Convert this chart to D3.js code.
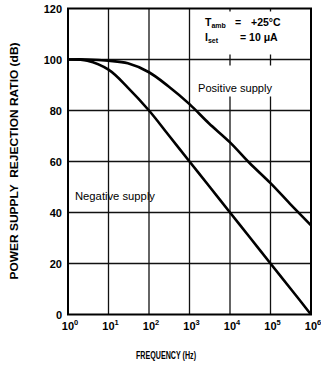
<!DOCTYPE html>
<html>
<head>
<meta charset="utf-8">
<script src="https://cdn.jsdelivr.net/npm/d3@7"></script>
<style>
  body { margin: 0; background: #fff; }
  text { font-family: "Liberation Sans", Arial, sans-serif; fill: #000; }
</style>
</head>
<body>
<div id="container"></div>
<script>
// Constants and globals
const width = 321,
  height = 365,
  margin = { top: 8.5, bottom: 50.5, left: 68, right: 10 }

// data
const freq = [1, 3, 10, 30, 100, 300, 1000, 3000, 1e4, 3e4, 1e5, 3e5, 1e6]
const positive = [100, 100, 99.5, 98.5, 95, 89.5, 82.5, 75, 67.5, 59.5, 51.5, 43.5, 35]
const negative = [100, 99.5, 96, 89, 80, 70.5, 60, 50.5, 40, 30.5, 20, 10.5, 0]
const xTicks = [0, 1, 2, 3, 4, 5, 6] // exponents of 10
const yTicks = [0, 20, 40, 60, 80, 100, 120]

// scales
const xScale = d3.scaleLog()
  .domain([1, 1e6])
  .range([margin.left, width - margin.right])

const yScale = d3.scaleLinear()
  .domain([0, 120])
  .range([height - margin.bottom, margin.top])

const svg = d3.select("#container")
  .append("svg")
  .attr("width", width)
  .attr("height", height)

const x0 = xScale(1), x1 = xScale(1e6), yTop = yScale(120), yBot = yScale(0)

// horizontal grid
svg.append("g")
  .selectAll("line")
  .data(yTicks.filter(d => d > 0 && d < 120))
  .join("line")
  .attr("x1", x0).attr("x2", x1)
  .attr("y1", d => yScale(d)).attr("y2", d => yScale(d))
  .attr("stroke", "#111").attr("stroke-width", 1.3)

// vertical grid (10^4 and 10^5 are interrupted by the notes box)
const vg = svg.append("g").attr("stroke", "#111").attr("stroke-width", 1.3)
xTicks.filter(e => e > 0 && e < 6).forEach(e => {
  const x = xScale(Math.pow(10, e))
  if (e < 4) {
    vg.append("line").attr("x1", x).attr("x2", x).attr("y1", yTop).attr("y2", yBot)
  } else {
    vg.append("line").attr("x1", x).attr("x2", x).attr("y1", yTop).attr("y2", yTop + 3)
    vg.append("line").attr("x1", x).attr("x2", x).attr("y1", yScale(100) - 5).attr("y2", yScale(100) + 6)
    vg.append("line").attr("x1", x).attr("x2", x).attr("y1", yScale(85.5)).attr("y2", yBot)
  }
})

// frame
svg.append("rect")
  .attr("x", x0).attr("y", yTop)
  .attr("width", x1 - x0).attr("height", yBot - yTop)
  .attr("fill", "none").attr("stroke", "#000").attr("stroke-width", 2)

// curves
const line = d3.line()
  .x((d, i) => xScale(freq[i]))
  .y(d => yScale(d))
  .curve(d3.curveCatmullRom.alpha(0.5))

svg.append("clipPath").attr("id", "clip")
  .append("rect").attr("x", x0).attr("y", yTop).attr("width", x1 - x0).attr("height", yBot - yTop)

const curves = svg.append("g").attr("clip-path", "url(#clip)")
;[positive, negative].forEach(s => {
  curves.append("path")
    .attr("d", line(s))
    .attr("fill", "none")
    .attr("stroke", "#000")
    .attr("stroke-width", 2.6)
})

// y tick labels
svg.append("g")
  .selectAll("text")
  .data(yTicks)
  .join("text")
  .attr("x", x0 - 6)
  .attr("y", d => yScale(d) + 4)
  .attr("text-anchor", "end")
  .attr("font-size", 11)
  .attr("font-weight", "bold")
  .text(d => d)

// x tick labels with superscripts
const xl = svg.append("g")
  .selectAll("text")
  .data(xTicks)
  .join("text")
  .attr("x", d => xScale(Math.pow(10, d)) + 2)
  .attr("y", 330)
  .attr("text-anchor", "middle")
  .attr("font-size", 11)
  .attr("font-weight", "bold")
xl.append("tspan").text("10")
xl.append("tspan").attr("dy", -5).attr("font-size", 7.5).text(d => d)

// axis titles
svg.append("text")
  .attr("x", 166).attr("y", 359)
  .attr("text-anchor", "middle")
  .attr("font-size", 10).attr("font-weight", "bold")
  .attr("textLength", 60).attr("lengthAdjust", "spacingAndGlyphs")
  .text("FREQUENCY (Hz)")

svg.append("text")
  .attr("transform", "translate(17.5,161) rotate(-90)")
  .attr("text-anchor", "middle")
  .attr("font-size", 10).attr("font-weight", "bold")
  .attr("textLength", 237).attr("lengthAdjust", "spacingAndGlyphs")
  .style("white-space", "pre")
  .text("POWER SUPPLY  REJECTION RATIO (dB)")

// notes
const note = svg.append("g").attr("font-size", 10.5).attr("font-weight", "bold")
const t1 = note.append("text").attr("x", 205).attr("y", 26)
t1.append("tspan").text("T")
t1.append("tspan").attr("dy", 2).attr("font-size", 7).text("amb")
note.append("text").attr("x", 235).attr("y", 26).text("=")
note.append("text").attr("x", 251).attr("y", 26).text("+25°C")
const t2 = note.append("text").attr("x", 205).attr("y", 41)
t2.append("tspan").text("I")
t2.append("tspan").attr("dy", 2).attr("font-size", 7).text("set")
note.append("text").attr("x", 240).attr("y", 41).text("= 10 μA")

// curve labels
svg.append("text").attr("x", 198).attr("y", 92)
  .attr("font-size", 10)
  .attr("textLength", 74).attr("lengthAdjust", "spacingAndGlyphs")
  .text("Positive supply")
svg.append("text").attr("x", 75).attr("y", 200)
  .attr("font-size", 10)
  .attr("textLength", 80).attr("lengthAdjust", "spacingAndGlyphs")
  .text("Negative supply")
</script>
</body>
</html>
